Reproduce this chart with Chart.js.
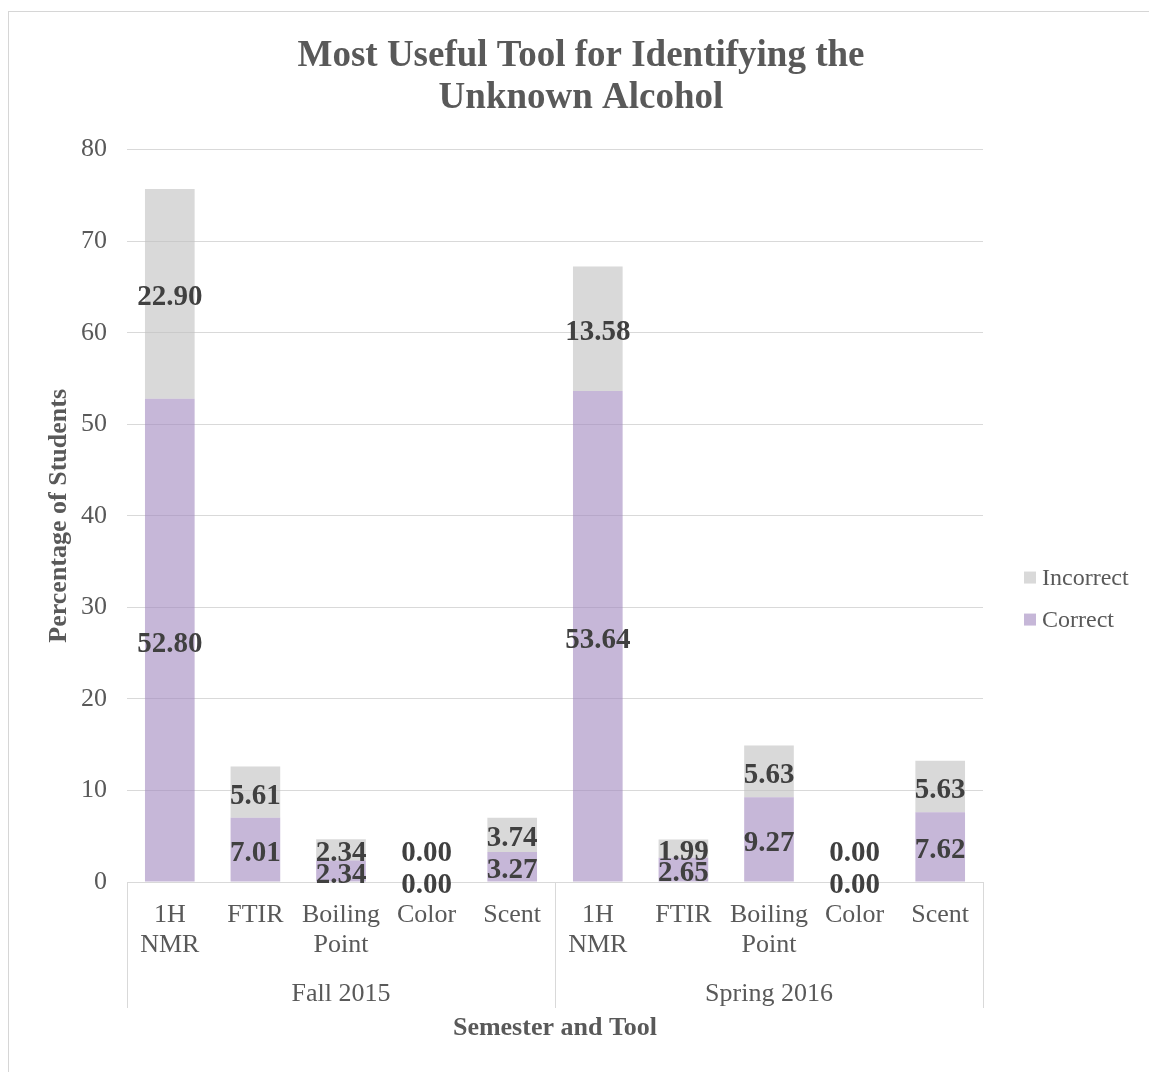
<!DOCTYPE html>
<html>
<head>
<meta charset="utf-8">
<script src="https://cdn.jsdelivr.net/npm/chart.js@4"></script>
<style>
  body { margin: 0; overflow: hidden; background: #fff; }
  #frame { position: absolute; left: 8px; top: 11px; width: 1300px; height: 1300px;
           border-left: 1px solid #d6d6d6; border-top: 1px solid #d6d6d6; }
  #chart { position: absolute; left: 0; top: 0; }
</style>
</head>
<body>
<div id="frame"></div>
<canvas id="chart" width="1149" height="1072"></canvas>
<script>
// Chart values
const semesters = ["Fall 2015", "Spring 2016"];
const tools = [["1H", "NMR"], "FTIR", ["Boiling", "Point"], "Color", "Scent"];
const correct = [52.80, 7.01, 2.34, 0.00, 3.27, 53.64, 2.65, 9.27, 0.00, 7.62];
const incorrect = [22.90, 5.61, 2.34, 0.00, 3.74, 13.58, 1.99, 5.63, 0.00, 5.63];
const yTicks = [0, 10, 20, 30, 40, 50, 60, 70, 80];

const labels = semesters.flatMap(() => tools);
const textGrey = "#595959";
const serif = "'Liberation Serif', 'Times New Roman', serif";

Chart.defaults.font.family = serif;
Chart.defaults.color = textGrey;

/**
 * Draws the value in the middle of every stacked segment (Excel style)
 */
const segmentLabels = {
  id: "segmentLabels",
  afterDatasetsDraw(chart) {
    const ctx = chart.ctx;
    ctx.save();
    ctx.font = "bold 29px " + serif;
    ctx.fillStyle = "#404040";
    ctx.textAlign = "center";
    ctx.textBaseline = "middle";
    chart.data.datasets.forEach((ds, di) => {
      chart.getDatasetMeta(di).data.forEach((bar, i) => {
        const v = ds.data[i];
        let y = (bar.y + bar.base) / 2 + 4;
        // zero segments collide, Excel pushes the upper one up
        if (v === 0 && di === 1) y -= 32;
        ctx.fillText(v.toFixed(2), bar.x, y);
      });
    });
    ctx.restore();
  },
};

/**
 * Vertical separators of the two-level category axis
 */
const groupLines = {
  id: "groupLines",
  afterDraw(chart) {
    const area = chart.chartArea;
    const x2 = chart.scales.x2;
    const yEnd = x2.top + x2.options.ticks.padding + 37;
    const xs = [area.left, (area.left + area.right) / 2, area.right];
    const ctx = chart.ctx;
    ctx.save();
    ctx.strokeStyle = "#d9d9d9";
    ctx.lineWidth = 1;
    xs.forEach((x) => {
      ctx.beginPath();
      ctx.moveTo(Math.round(x) + 0.5, area.bottom);
      ctx.lineTo(Math.round(x) + 0.5, yEnd);
      ctx.stroke();
    });
    ctx.restore();
  },
};

/**
 * Legend on the right, Incorrect above Correct
 */
const sideLegend = {
  id: "sideLegend",
  afterDraw(chart) {
    const area = chart.chartArea;
    const ctx = chart.ctx;
    const x = area.right + 41;
    const midY = area.top + (area.bottom - area.top) * 0.613;
    const items = chart.data.datasets.slice().reverse();
    ctx.save();
    ctx.font = "24px " + serif;
    ctx.textBaseline = "middle";
    items.forEach((ds, i) => {
      const y = midY + (i - (items.length - 1) / 2) * 42;
      ctx.fillStyle = ds.backgroundColor;
      ctx.fillRect(x, y - 6, 12, 12);
      ctx.fillStyle = textGrey;
      ctx.fillText(ds.label, x + 18, y + 1);
    });
    ctx.restore();
  },
};

new Chart(document.getElementById("chart"), {
  type: "bar",
  data: {
    labels: labels,
    datasets: [
      {
        label: "Correct",
        data: correct,
        backgroundColor: "rgba(160, 135, 190, 0.6)",
        barPercentage: 1,
        categoryPercentage: 0.58,
      },
      {
        label: "Incorrect",
        data: incorrect,
        backgroundColor: "rgba(191, 191, 191, 0.6)",
        barPercentage: 1,
        categoryPercentage: 0.58,
      },
    ],
  },
  options: {
    responsive: false,
    animation: false,
    layout: { padding: { top: 20, left: 40, right: 27, bottom: 28 } },
    plugins: {
      tooltip: { enabled: false },
      legend: { display: false },
      title: {
        display: true,
        text: ["Most Useful Tool for Identifying the", "Unknown Alcohol"],
        color: textGrey,
        font: { size: 37, weight: "bold", lineHeight: 1.13 },
        padding: { top: 16, bottom: 30 },
      },
    },
    scales: {
      y: {
        stacked: true,
        min: 0,
        max: 80,
        afterBuildTicks: (axis) => {
          axis.ticks = yTicks.map((v) => ({ value: v }));
        },
        afterFit: (axis) => {
          axis.width = 87;
        },
        grid: { color: "#d9d9d9", drawTicks: false },
        border: { display: false },
        ticks: { padding: 20, color: textGrey, font: { size: 26 } },
        title: {
          display: true,
          text: "Percentage of Students",
          color: textGrey,
          font: { size: 26, weight: "bold" },
          padding: { top: 4, bottom: 0 },
        },
      },
      // empty axis that only keeps room for the legend on the right
      legendRoom: {
        type: "linear",
        position: "right",
        afterFit: (axis) => {
          axis.width = 139;
        },
        grid: { display: false },
        border: { display: false },
        ticks: { display: false },
      },
      x: {
        stacked: true,
        afterFit: (axis) => {
          axis.height = 78;
        },
        grid: { display: false },
        border: { display: true, color: "#d9d9d9" },
        ticks: {
          autoSkip: false,
          maxRotation: 0,
          padding: 10,
          color: textGrey,
          font: { size: 26, lineHeight: 1.15 },
        },
      },
      x2: {
        type: "category",
        position: "bottom",
        labels: semesters,
        offset: true,
        afterFit: (axis) => {
          axis.height = 84;
        },
        grid: { display: false },
        border: { display: false },
        ticks: { padding: 11, color: textGrey, font: { size: 26 } },
        title: {
          display: true,
          text: "Semester and Tool",
          color: textGrey,
          font: { size: 26, weight: "bold" },
          padding: { top: 0, bottom: 0 },
        },
      },
    },
  },
  plugins: [segmentLabels, groupLines, sideLegend],
});
</script>
</body>
</html>
